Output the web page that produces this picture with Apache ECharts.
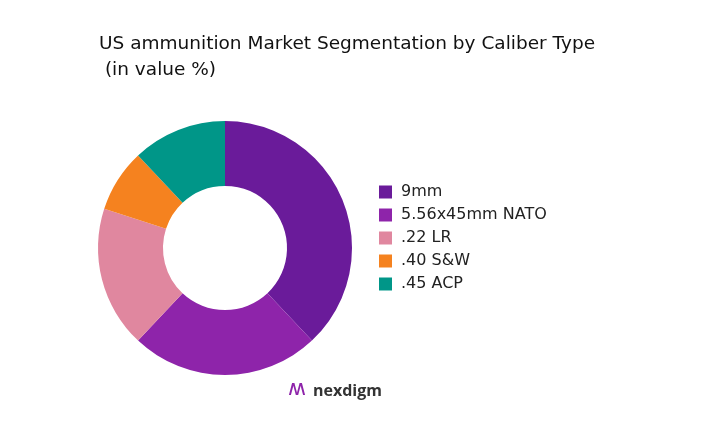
<!DOCTYPE html>
<html><head><meta charset="utf-8">
<script src="https://cdn.jsdelivr.net/npm/echarts@6/dist/echarts.min.js"></script>
<style>html,body{margin:0;padding:0;background:#fff}#c{width:727px;height:447px}</style>
</head><body><div id="c"></div>
<script>
const categories = ['9mm', '5.56x45mm NATO', '.22 LR', '.40 S&W', '.45 ACP'];
const values = [38, 24, 18, 8, 12];
const colors = ['#6a1b9a', '#8e24aa', '#e0879f', '#f5821f', '#009688'];

const chart = echarts.init(document.getElementById('c'));
chart.setOption({
  animation: false,
  color: colors,
  title: {
    text: 'US ammunition Market Segmentation by Caliber Type\n (in value %)',
    left: 94, top: 26,
    textStyle: {fontFamily: 'DejaVu Sans', fontSize: 18.5, fontWeight: 'normal', color: '#111', lineHeight: 26}
  },
  legend: {
    orient: 'vertical', left: 374, top: 179,
    itemWidth: 13, itemHeight: 13, itemGap: 7, icon: 'rect',
    textStyle: {fontFamily: 'DejaVu Sans', fontSize: 16, color: '#222', padding: [0, 0, 0, 4]},
    data: categories
  },
  graphic: [{
    type: 'text', left: 313, top: 383,
    style: {text: 'nexdigm', fontFamily: 'Open Sans', fontSize: 16, fontWeight: 'bold', fill: '#333'}
  }, {
    type: 'text', left: 288, top: 378,
    style: {text: 'ʍ', fontFamily: 'DejaVu Sans', fontSize: 22, fill: '#8e24aa'}
  }],
  series: [{
    type: 'pie',
    center: [225, 248],
    radius: [62, 127],
    startAngle: 90,
    label: {show: false},
    labelLine: {show: false},
    data: categories.map((n, i) => ({name: n, value: values[i]}))
  }]
});
</script></body></html>
